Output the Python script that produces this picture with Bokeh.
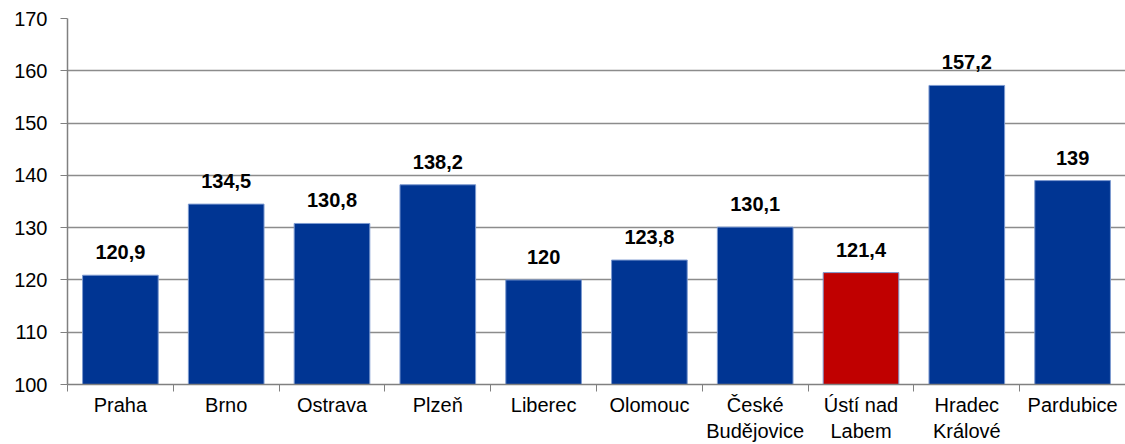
from bokeh.plotting import figure
from bokeh.models import ColumnDataSource, FixedTicker, Range1d
from bokeh.core.properties import value
from bokeh.embed import file_html
from bokeh.resources import INLINE

cities = ["Praha", "Brno", "Ostrava", "Plzeň", "Liberec", "Olomouc",
          "České\nBudějovice", "Ústí nad\nLabem", "Hradec\nKrálové", "Pardubice"]
values = [120.9, 134.5, 130.8, 138.2, 120.0, 123.8, 130.1, 121.4, 157.2, 139.0]
labels = ["120,9", "134,5", "130,8", "138,2", "120", "123,8", "130,1", "121,4", "157,2", "139"]
colors = ["#003593"] * 7 + ["#C00000"] + ["#003593"] * 2
y_ticks = [100, 110, 120, 130, 140, 150, 160, 170]

n = len(cities)
xs = [i + 0.5 for i in range(n)]
src = ColumnDataSource(dict(x=xs, top=values, label=labels, color=colors))

FONT = "Liberation Sans"
p = figure(width=1125, height=444, output_backend="svg", toolbar_location=None,
           x_range=Range1d(0, n), y_range=Range1d(100, 170),
           min_border_left=67, min_border_right=0, min_border_top=18, min_border_bottom=60)
p.outline_line_color = None
p.background_fill_color = "white"
p.border_fill_color = "white"

p.vbar(x="x", top="top", bottom=100, width=0.715, source=src,
       fill_color="color", line_color="#7D9AD0", line_width=1)
p.text(x="x", y="top", text="label", source=src, text_align="center",
       text_baseline="alphabetic", y_offset=-23, text_font=value(FONT),
       text_font_size="20px", text_font_style="bold", text_color="black")

# x axis
p.xaxis.ticker = FixedTicker(ticks=xs, minor_ticks=list(range(n + 1)))
p.xaxis.major_label_overrides = {x: c for x, c in zip(xs, cities)}
p.xaxis.major_tick_out = 0
p.xaxis.major_tick_in = 0
p.xaxis.minor_tick_out = 7
p.xaxis.minor_tick_in = 0
p.xaxis.minor_tick_line_color = "#808080"
p.xaxis.axis_line_color = "#808080"
p.xaxis.axis_line_width = 1.5
p.xaxis.major_label_standoff = 2
p.xaxis.major_label_text_font = FONT
p.xaxis.major_label_text_font_size = "20px"
p.xaxis.major_label_text_color = "black"

# y axis
p.yaxis.ticker = FixedTicker(ticks=y_ticks)
p.yaxis.minor_tick_line_color = None
p.yaxis.major_tick_out = 7
p.yaxis.major_tick_in = 0
p.yaxis.major_tick_line_color = "#808080"
p.yaxis.axis_line_color = "#808080"
p.yaxis.axis_line_width = 1.5
p.yaxis.major_label_standoff = 13
p.yaxis.major_label_text_font = FONT
p.yaxis.major_label_text_font_size = "20px"
p.yaxis.major_label_text_color = "black"

p.xgrid.grid_line_color = None
p.ygrid.ticker = FixedTicker(ticks=y_ticks)
p.ygrid.grid_line_color = "#8C8C8C"
p.ygrid.grid_line_width = 1.5
p.ygrid.level = "underlay"

open("out.html", "w").write(file_html(p, INLINE))
